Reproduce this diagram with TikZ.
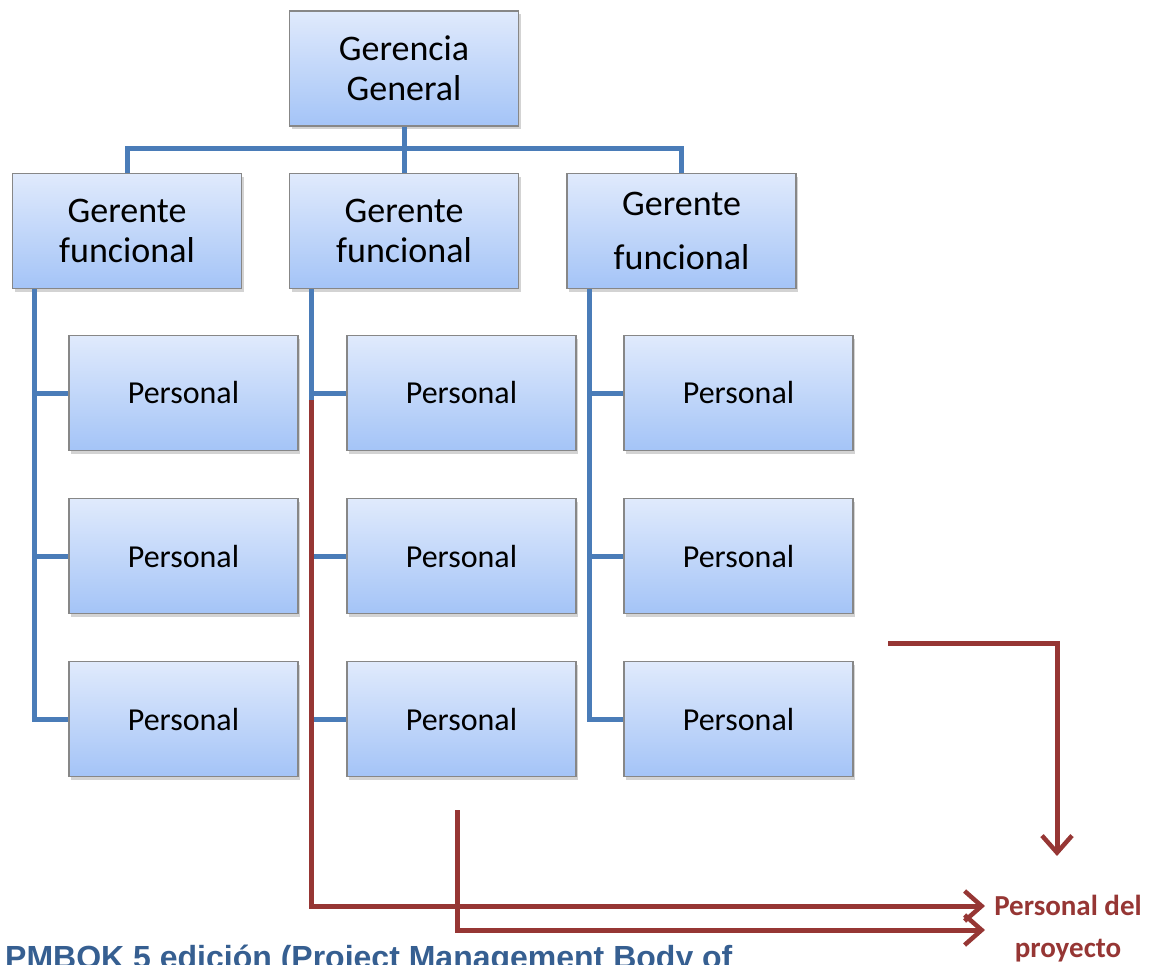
\documentclass[tikz,border=0pt]{standalone}
\usepackage{fontspec}
\setmainfont{Carlito}
\newfontfamily\notefont{Liberation Sans}
\usepackage{xcolor}
\usepackage{tikz}
\usetikzlibrary{arrows.meta,shadows}

\definecolor{boxtop}{RGB}{224,234,252}
\definecolor{boxbot}{RGB}{164,196,247}
\definecolor{boxedge}{RGB}{135,135,135}
\definecolor{linkblue}{RGB}{74,124,184}
\definecolor{flowred}{RGB}{150,54,52}
\definecolor{noteblue}{RGB}{54,95,145}

\begin{document}
\begin{tikzpicture}[x=1pt,y=-1pt,
  cargo/.style={draw=boxedge, line width=1.2pt, top color=boxtop, bottom color=boxbot,
    minimum width=229pt, minimum height=115pt, inner sep=0pt, align=center,
    drop shadow={shadow xshift=2pt, shadow yshift=-3pt, opacity=0.35}},
  jefe/.style={cargo, font=\fontsize{36}{40}\selectfont},
  staff/.style={cargo, font=\fontsize{32}{38}\selectfont},
  link/.style={draw=linkblue, line width=5pt},
  flow/.style={draw=flowred, line width=5pt,
    -{Straight Barb[length=17pt,width=30pt,line width=4.5pt]}}]
\useasboundingbox (0,0) rectangle (1159,964);
\clip (0,0) rectangle (1159,964);

% top of the chart
\node[jefe] (gg) at (404,68.5) {Gerencia\\General};
\node[jefe] (gf1) at (127,231) {Gerente\\funcional};
\node[jefe] (gf2) at (404,231) {Gerente\\funcional};
\node[jefe, font=\fontsize{36}{54}\selectfont] (gf3) at (681.5,231) {Gerente\\funcional};

% staff under each manager
\foreach \c/\x in {1/183.5,2/461.5,3/738.5}
  \foreach \r/\y in {1/393,2/556,3/719}
    \node[staff] (p\c\r) at (\x,\y) {Personal};

% blue links
\draw[link] (gg.south) -- (gf2.north);
\draw[link] (gf1.north) -- ++(0,-24) -| (gf3.north);
\foreach \c in {1,2,3}
  \foreach \r in {1,2,3}
    \draw[link] ([xshift=23pt]gf\c.south west) |- (p\c\r.west);

% red arrows to the project team
\node[text=flowred, font=\bfseries\fontsize{29}{42}\selectfont, align=center] (team) at (1068,929) {Personal del\\proyecto};
\coordinate (r1) at (311,400);
\coordinate (r2) at (457,810);
\coordinate (r3) at (888,643);
\coordinate (in1) at (985,906);
\coordinate (in2) at (985,930);
\coordinate (in3) at (1057,856);
\draw[flow] (r1) |- (in1);
\draw[flow] (r2) |- (in2);
\draw[flow] (r3) -| (in3);

\node[anchor=base west, inner sep=0pt, text=noteblue, font=\notefont\bfseries\fontsize{32}{38}\selectfont] (fuente) at (5,968) {PMBOK 5 edición (Project Management Body of};
\end{tikzpicture}
\end{document}
